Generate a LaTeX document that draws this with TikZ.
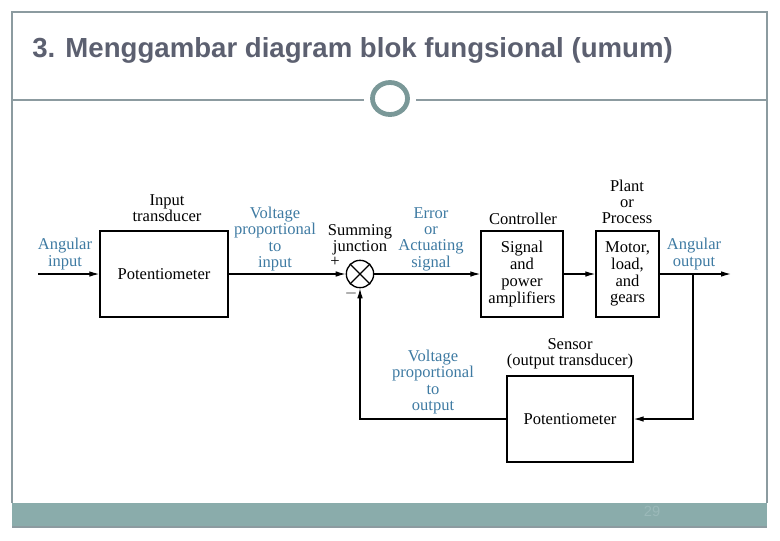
\documentclass[tikz,border=0pt]{standalone}
\usepackage{fontspec}
\setmainfont{Liberation Serif}
\newfontfamily\titlefont{Liberation Sans}
\usetikzlibrary{arrows.meta}
\definecolor{lblue}{RGB}{62,122,162}
\definecolor{framec}{RGB}{140,155,160}
\definecolor{circc}{RGB}{122,152,152}
\definecolor{footc}{RGB}{138,172,171}
\definecolor{pagec}{RGB}{155,185,185}
\definecolor{titlec}{RGB}{92,96,112}
\tikzset{
  lbl/.style={font=\fontsize{12.4}{12.2}\selectfont, align=center, inner sep=0pt},
  blbl/.style={lbl, text=lblue},
  blk/.style={draw, line width=1pt, font=\fontsize{12.4}{12.6}\selectfont, align=center, inner sep=0pt},
  arr/.style={line width=0.9pt, -{Latex[length=7.5pt,width=4.2pt]}},
  framel/.style={draw=framec, line width=0.8pt}
}
\begin{document}
\begin{tikzpicture}[x=0.75pt,y=-0.75pt]
\useasboundingbox (0,0) rectangle (780,540);
% slide frame
\fill[footc] (12,503) rectangle (767,527);
\draw[framel] (12,503) |- (767,12) -- (767,503);
\draw[framel] (12,527) -- (767,527);
\draw[framel] (12,100) -- (364,100);
\draw[framel] (416,100) -- (767,100);
\draw[circc, line width=3.6pt] (390,98.5) ellipse [x radius=17.5, y radius=16];
\node[anchor=base west, inner sep=0pt, text=titlec, font=\titlefont\bfseries\fontsize{20.7}{24}\selectfont] (title) at (32,57) {3. Menggambar diagram blok fungsional (umum)};
\node[text=pagec, inner sep=0pt, font=\titlefont\fontsize{11}{12}\selectfont] (page) at (652,511) {29};

% blocks
\node[blk, minimum width=96pt, minimum height=64.5pt] (b1) at (164,274) {Potentiometer};
\node[blk, minimum width=61.5pt, minimum height=64.5pt] (b2) at (522,274) {Signal\\and\\power\\amplifiers};
\node[blk, minimum width=47.25pt, minimum height=64.5pt] (b3) at (627.5,274) {Motor,\\load,\\and\\gears};
\node[blk, minimum width=94.5pt, minimum height=64.5pt] (b4) at (570,419) {Potentiometer};
\node[draw, circle, line width=1pt, minimum size=20.5pt, inner sep=0pt] (sj) at (360,274) {};
\draw[line width=1pt] (sj.north east) -- (sj.south west) (sj.north west) -- (sj.south east);

% labels
\node[lbl] (l1) at (167,208) {Input\\transducer};
\node[blbl] (l2) at (65,254) {Angular\\input};
\node[blbl] (l3) at (275,239) {Voltage\\proportional\\to\\input};
\node[lbl] (l4) at (360,240) {Summing\\junction};
\node[lbl] (plus) at (335,262) {+};
\node[lbl] (minus) at (351,293) {$-$};
\node[blbl] (l5) at (431,239) {Error\\or\\Actuating\\signal};
\node[lbl] (l6) at (523,219) {Controller};
\node[lbl] (l7) at (627,202) {Plant\\or\\Process};
\node[blbl] (l8) at (694,254) {Angular\\output};
\node[lbl] (l9) at (570,354) {Sensor\\(output transducer)};
\node[blbl] (l10) at (433,382) {Voltage\\proportional\\to\\output};

% connectors
\coordinate (in) at (38,274);
\coordinate (out) at (731,274);
\coordinate (br) at (693,274);
\draw[arr] (in) -- (b1.west);
\draw[arr] (b1.east) -- (sj.west);
\draw[arr] (sj.east) -- (b2.west);
\draw[arr] (b2.east) -- (b3.west);
\draw[arr] (b3.east) -- (out);
\draw[arr] (br) |- (b4.east);
\draw[arr] (b4.west) -| (sj.south);
\end{tikzpicture}
\end{document}
